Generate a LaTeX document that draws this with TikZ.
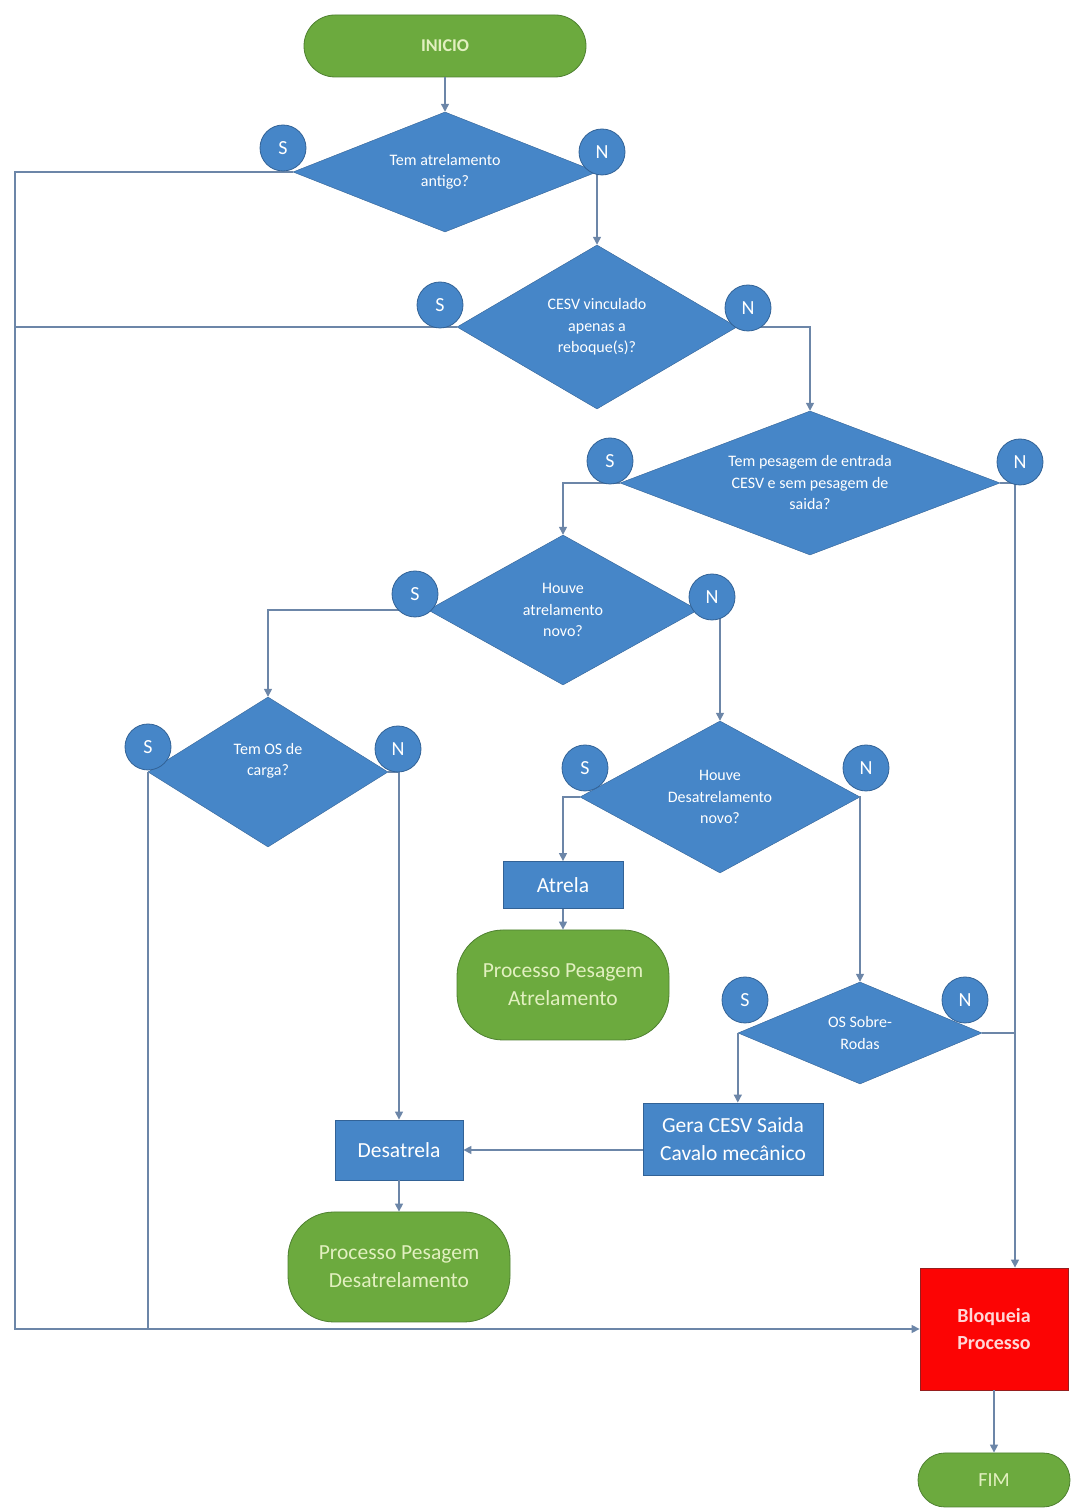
\documentclass[tikz,border=0pt]{standalone}
\usepackage{fontspec}
\setmainfont{Carlito}
\usetikzlibrary{positioning, arrows.meta, shapes.geometric}
\definecolor{fcblue}{RGB}{70,134,200}
\definecolor{fcblueln}{RGB}{50,98,150}
\definecolor{fcgreen}{RGB}{108,170,62}
\definecolor{fcgreenln}{RGB}{78,128,48}
\definecolor{fcred}{RGB}{252,4,4}
\definecolor{fcredln}{RGB}{150,30,30}
\definecolor{fcline}{RGB}{108,134,168}
\definecolor{fcpale}{RGB}{226,240,192}
\definecolor{fcpink}{RGB}{255,214,214}

\begin{document}
\begin{tikzpicture}[x=1pt, y=1pt, on grid, >={Triangle[width=8pt,length=8pt]},
          dec/.style ={diamond, draw=fcblueln, fill=fcblue, text=white, inner sep=0pt,
                       align=center, font=\fontsize{16}{21.5}\selectfont},
          yn/.style  ={circle, draw=fcblueln, fill=fcblue, text=white, line width=0.8pt,
                       minimum size=46pt, inner sep=0pt, font=\fontsize{20}{22}\selectfont},
          act/.style ={rectangle, draw=fcblueln, fill=fcblue, text=white, line width=0.8pt,
                       inner sep=0pt, align=center, font=\fontsize{21.5}{28}\selectfont},
          term/.style={rectangle, rounded corners=#1, draw=fcgreenln, fill=fcgreen, text=fcpale,
                       line width=0.8pt, inner sep=0pt, align=center, font=\fontsize{21.5}{28}\selectfont},
          term/.default=27pt,
          blk/.style ={rectangle, draw=fcredln, fill=fcred, text=fcpink, line width=0.8pt,
                       inner sep=0pt, align=center, font=\fontsize{20}{27}\selectfont\bfseries},
          ln/.style  ={draw=fcline, line width=1.4pt}]
        \useasboundingbox (0,0) rectangle (1070,1511);
        % nodes
        \node[term=31pt, minimum width=282pt, minimum height=62pt, font=\fontsize{18}{22}\selectfont\bfseries]
              (ini) at (445,1465) {INICIO};
        \node[dec, minimum width=304pt, minimum height=120pt, aspect=2.5, below=126pt of ini]
              (d1) {Tem atrelamento\\antigo?};
        \node[dec, minimum width=280pt, minimum height=164pt, aspect=1.7, below right=155pt and 152pt of d1]
              (d2) {CESV vinculado\\apenas a\\reboque(s)?};
        \node[dec, minimum width=380pt, minimum height=144pt, aspect=2.6, below right=156pt and 213pt of d2]
              (d3) {Tem pesagem de entrada\\CESV e sem pesagem de\\saida?};
        \node[dec, minimum width=270pt, minimum height=150pt, aspect=1.8, below left=127pt and 247pt of d3]
              (d4) {Houve\\atrelamento\\novo?};
        \node[dec, minimum width=240pt, minimum height=150pt, aspect=1.6, below left=162pt and 295pt of d4]
              (d5) {Tem OS de\\carga?\\[4pt]};
        \node[dec, minimum width=280pt, minimum height=152pt, aspect=1.84, below right=187pt and 157pt of d4]
              (d6) {Houve\\Desatrelamento\\novo?};
        \node[act, minimum width=120pt, minimum height=47pt, below left=88pt and 157pt of d6]
              (atr) {Atrela};
        \node[term=46pt, minimum width=212pt, minimum height=110pt, below=100pt of atr]
              (ppa) {Processo Pesagem\\Atrelamento};
        \node[dec, minimum width=244pt, minimum height=102pt, aspect=2.4, below right=236pt and 140pt of d6]
              (d7) {OS Sobre-\\Rodas};
        \node[act, minimum width=180pt, minimum height=72pt, below left=106pt and 127pt of d7]
              (gera) {Gera CESV Saida\\Cavalo mecânico};
        \node[act, minimum width=128pt, minimum height=60pt, below right=378pt and 131pt of d5]
              (desat) {Desatrela};
        \node[term=46pt, minimum width=222pt, minimum height=110pt, below=117pt of desat]
              (ppd) {Processo Pesagem\\Desatrelamento};
        \node[blk, minimum width=148pt, minimum height=122pt, below right=846pt and 184pt of d3]
              (bloq) {Bloqueia\\Processo};
        \node[term, minimum width=152pt, minimum height=54pt, below=151pt of bloq, font=\fontsize{20}{22}\selectfont]
              (fim) {FIM};
        \coordinate (rail) at (15,0);
        \coordinate (nj) at ([xshift=21pt]bloq.north);
        % connectors
        \draw[ln,->] (ini) -- (d1);
        \draw[ln,->] (d1.east) -| (d2.north);
        \draw[ln,->] (d1.west) -- (d1.west -| rail) |- (bloq.west);
        \draw[ln] (d2.west) -- (d2.west -| rail);
        \draw[ln,->] (d2.east) -| (d3.north);
        \draw[ln,->] (d3.west) -| (d4.north);
        \draw[ln,->] (d3.east) -| (nj);
        \draw[ln,->] (d4.west) -| (d5.north);
        \draw[ln,->] (d4.east) -| (d6.north);
        \draw[ln] (d5.west) -- (d5.west |- bloq.west);
        \draw[ln,->] (d5.east) -| (desat.north);
        \draw[ln,->] (d6.west) -| (atr.north);
        \draw[ln,->] (d6.east) -| (d7.north);
        \draw[ln,->] (atr) -- (ppa);
        \draw[ln,->] (d7.west) -- (d7.west |- gera.north);
        \draw[ln] (d7.east) -- (d7.east -| nj);
        \draw[ln,->] (gera.west |- desat.east) -- (desat.east);
        \draw[ln,->] (desat) -- (ppd);
        \draw[ln,->] (bloq) -- (fim);
        % S / N markers
        \node[yn, above left=24pt and 162pt of d1] (s1) {S};
        \node[yn, above right=20pt and 157pt of d1] (n1) {N};
        \node[yn, above left=22pt and 157pt of d2] (s2) {S};
        \node[yn, above right=19pt and 151pt of d2] (n2) {N};
        \node[yn, above left=22pt and 200pt of d3] (s3) {S};
        \node[yn, above right=21pt and 210pt of d3] (n3) {N};
        \node[yn, above left=16pt and 148pt of d4] (s4) {S};
        \node[yn, above right=13pt and 149pt of d4] (n4) {N};
        \node[yn, above left=25pt and 120pt of d5] (s5) {S};
        \node[yn, above right=23pt and 130pt of d5] (n5) {N};
        \node[yn, above left=29pt and 135pt of d6] (s6) {S};
        \node[yn, above right=29pt and 146pt of d6] (n6) {N};
        \node[yn, above left=33pt and 115pt of d7] (s7) {S};
        \node[yn, above right=33pt and 105pt of d7] (n7) {N};
\end{tikzpicture}
\end{document}
